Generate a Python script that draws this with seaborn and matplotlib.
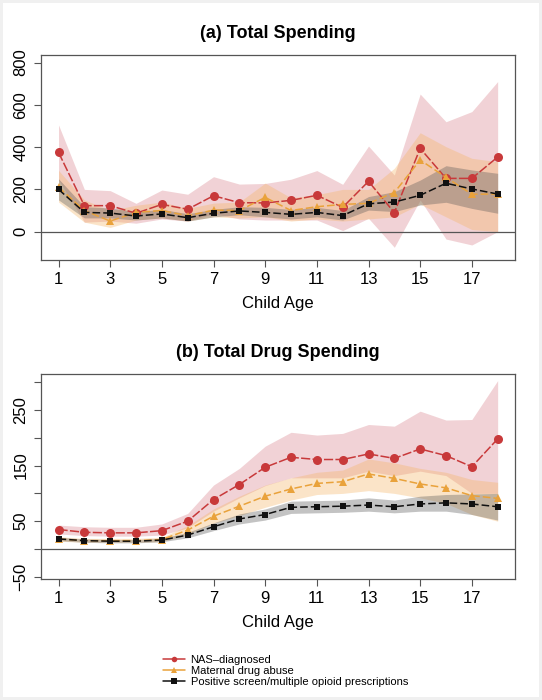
# Spending by child age, three exposure groups
import numpy as np
import pandas as pd
import matplotlib.pyplot as plt
import seaborn as sns

ages = list(range(1, 19))
groups = ["NAS\u2013diagnosed", "Maternal drug abuse", "Positive screen/multiple opioid prescriptions"]

# (a) total spending
tot_nas = [375, 123, 123, 87, 129, 106, 170, 137, 136, 148, 172, 115, 238, 90, 394, 252, 252, 353]
tot_nas_lo = [245, 45, 50, 40, 60, 50, 85, 60, 55, 55, 55, 5, 63, -74, 150, -35, -63, 0]
tot_nas_hi = [505, 200, 194, 134, 197, 177, 260, 225, 228, 248, 289, 224, 405, 268, 651, 520, 568, 710]
tot_mat = [210, 100, 50, 91, 100, 75, 102, 100, 162, 100, 118, 129, 134, 185, 339, 257, 177, 178]
tot_mat_lo = [140, 45, 20, 55, 65, 50, 70, 65, 70, 50, 60, 50, 60, 70, 130, 70, 10, 0]
tot_mat_hi = [290, 150, 100, 125, 140, 110, 135, 140, 230, 160, 175, 200, 200, 300, 468, 402, 347, 331]
tot_pos = [200, 91, 88, 74, 84, 66, 87, 98, 91, 82, 91, 76, 132, 140, 172, 229, 202, 178]
tot_pos_lo = [150, 65, 65, 55, 65, 50, 70, 80, 70, 60, 70, 55, 102, 95, 126, 139, 110, 87]
tot_pos_hi = [250, 118, 112, 95, 105, 85, 105, 118, 115, 105, 115, 100, 166, 189, 244, 312, 292, 276]

# (b) total drug spending
drug_nas = [35, 30, 29, 29, 33, 50, 89, 116, 147, 165, 161, 161, 171, 163, 180, 168, 148, 198]
drug_nas_lo = [27, 24, 23, 23, 25, 38, 68, 92, 114, 128, 128, 128, 140, 132, 140, 132, 100, 100]
drug_nas_hi = [43, 40, 39, 39, 45, 64, 115, 145, 185, 210, 205, 208, 224, 221, 248, 232, 233, 303]
drug_mat = [18, 15, 15, 15, 17, 34, 59, 77, 95, 108, 118, 121, 135, 127, 117, 110, 96, 91]
drug_mat_lo = [14, 12, 12, 12, 13, 26, 46, 60, 75, 88, 98, 100, 105, 100, 92, 82, 62, 50]
drug_mat_hi = [22, 19, 19, 19, 21, 42, 72, 95, 115, 128, 138, 142, 162, 155, 145, 138, 125, 120]
drug_pos = [18, 15, 14, 14, 16, 25, 40, 54, 62, 75, 76, 77, 79, 76, 81, 83, 81, 76]
drug_pos_lo = [15, 12, 11, 11, 13, 20, 33, 45, 52, 64, 65, 66, 68, 65, 68, 68, 62, 52]
drug_pos_hi = [21, 18, 17, 17, 19, 30, 47, 63, 72, 86, 87, 88, 92, 88, 95, 98, 99, 100]

line_col = ["#c8393a", "#e9a23b", "#111111"]
band_col = ["#d9808a", "#f5b463", "#555555"]
band_alpha = [0.35, 0.35, 0.35]
markers = {groups[0]: "o", groups[1]: "^", groups[2]: "s"}
dashes = {groups[0]: (6, 1.5), groups[1]: (5, 2), groups[2]: (5, 2)}
msize = [6.5, 5.5, 5]


def lang_tabell(verdier):
    rader = []
    for g, v in zip(groups, verdier):
        for a, y in zip(ages, v):
            rader.append({"age": a, "value": y, "group": g})
    return pd.DataFrame(rader)


def tegn_panel(ax, verdier, lo, hi, tittel, ylim, yticks, ylabels):
    for i in range(3):
        ax.fill_between(ages, lo[i], hi[i], color=band_col[i], alpha=band_alpha[i], lw=0, zorder=1)
    ax.axhline(0, color="#555555", lw=0.9, zorder=2)
    df = lang_tabell(verdier)
    sns.lineplot(data=df, x="age", y="value", hue="group", style="group",
                 palette=dict(zip(groups, line_col)), markers=markers, dashes=dashes,
                 markeredgewidth=0, lw=1.1, ax=ax, legend=False, zorder=3)
    for linje, ms in zip(ax.lines[1:], msize):
        linje.set_markersize(ms)
    ax.set_xlim(0.32, 18.68)
    ax.set_ylim(*ylim)
    ax.set_xticks([1, 3, 5, 7, 9, 11, 13, 15, 17])
    ax.set_yticks(yticks)
    ax.set_yticklabels(ylabels, rotation=90, va="center")
    ax.set_xlabel("Child Age", fontsize=12, labelpad=6)
    ax.set_ylabel("")
    ax.set_title(tittel, fontsize=13, fontweight="bold", pad=12)
    ax.tick_params(axis="both", bottom=True, left=True, length=5, width=0.8,
                   color="#555555", labelsize=12, pad=4)
    for s in ax.spines.values():
        s.set_color("#555555")
        s.set_linewidth(0.9)
    ax.grid(False)


sns.set_theme(style="white")
plt.rcParams["font.family"] = ["Liberation Sans", "DejaVu Sans"]
plt.rcParams["text.color"] = "black"
plt.rcParams["axes.labelcolor"] = "black"
plt.rcParams["xtick.labelcolor"] = "black"
plt.rcParams["ytick.labelcolor"] = "black"

fig = plt.figure(figsize=(5.42, 7.0), dpi=100)
fig.patch.set_facecolor("#f0f0f0")
fig.patches.append(plt.Rectangle((0.006, 0.004), 0.988, 0.992, transform=fig.transFigure,
                                 facecolor="white", edgecolor="none", zorder=-10))

ax1 = fig.add_axes([0.0756, 0.6286, 0.875, 0.2929])
ax2 = fig.add_axes([0.0756, 0.1729, 0.875, 0.2929])
for ax in (ax1, ax2):
    ax.set_facecolor("white")

tegn_panel(ax1, [tot_nas, tot_mat, tot_pos], [tot_nas_lo, tot_mat_lo, tot_pos_lo],
           [tot_nas_hi, tot_mat_hi, tot_pos_hi], "(a) Total Spending",
           (-134, 836), [0, 200, 400, 600, 800], ["0", "200", "400", "600", "800"])

yt = [-50, 0, 50, 100, 150, 200, 250, 300]
yl = ["\u221250", "", "50", "", "150", "", "250", ""]
tegn_panel(ax2, [drug_nas, drug_mat, drug_pos], [drug_nas_lo, drug_mat_lo, drug_pos_lo],
           [drug_nas_hi, drug_mat_hi, drug_pos_hi], "(b) Total Drug Spending",
           (-54, 315), yt, yl)

# Legend under panel (b)
handles = [plt.Line2D([], [], color=c, marker=m, markersize=4, lw=1.1, markeredgewidth=0)
           for c, m in zip(line_col, ["o", "^", "s"])]
fig.legend(handles, groups, loc="upper left", bbox_to_anchor=(0.29, 0.072), frameon=False,
           fontsize=8, handlelength=2.0, handletextpad=0.5, labelspacing=0.1, borderpad=0)

fig.savefig("out.png", dpi=100, facecolor=fig.get_facecolor())
